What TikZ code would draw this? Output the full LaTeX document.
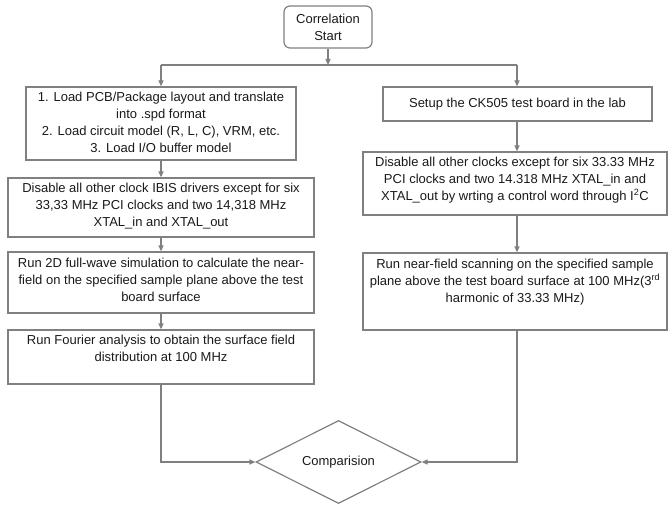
\documentclass[tikz,border=0pt]{standalone}
\usepackage{fontspec}
\setmainfont{Liberation Sans}
\usetikzlibrary{arrows.meta,shapes.geometric}
\definecolor{linegray}{HTML}{808080}
\definecolor{txtgray}{HTML}{1A1A1A}
\begin{document}
\begin{tikzpicture}[x=1pt,y=1pt,
  box/.style={draw=linegray, line width=1.2pt, fill=white, inner sep=0pt},
  txt/.style={font=\fontsize{13}{17}\selectfont, text=txtgray, align=center, inner sep=0pt},
  conn/.style={draw=linegray, line width=1.2pt, -{Triangle[length=6pt,width=5pt]}},
  plainline/.style={draw=linegray, line width=1.2pt}]
\useasboundingbox (0,0) rectangle (668,504);
% start
\node[box, txt, rounded corners=6pt, minimum width=88pt, minimum height=42pt] (start) at (328,477) {Correlation\\Start};
% left column
\node[box, minimum width=270pt, minimum height=73pt] (lb1) at (161,380.5) {};
\node[txt, anchor=north] (lb1t) at ([yshift=-5pt]lb1.north) {1. Load PCB/Package layout and translate\\into .spd format\\2. Load circuit model (R, L, C), VRM, etc.\\3. Load I/O buffer model};
\node[box, minimum width=306pt, minimum height=59pt] (lb2) at (161,296.5) {};
\node[txt, anchor=north] (lb2t) at ([yshift=-5pt]lb2.north) {Disable all other clock IBIS drivers except for six\\33,33 MHz PCI clocks and two 14,318 MHz\\XTAL\_in and XTAL\_out};
\node[box, minimum width=306pt, minimum height=61pt] (lb3) at (161,221.5) {};
\node[txt, anchor=north] (lb3t) at ([yshift=-6pt]lb3.north) {Run 2D full-wave simulation to calculate the near-\\field on the specified sample plane above the test\\board surface};
\node[box, minimum width=306pt, minimum height=54pt] (lb4) at (161,147) {};
\node[txt, anchor=north] (lb4t) at ([yshift=-5pt]lb4.north) {Run Fourier analysis to obtain the surface field\\distribution at 100 MHz};
% right column
\coordinate (rx) at (517,0);
\node[box, txt, minimum width=269pt, minimum height=34pt] (rb1) at (517.5,400) {Setup the CK505 test board in the lab};
\node[box, minimum width=304pt, minimum height=63pt] (rb2) at (515,320.5) {};
\node[txt, anchor=north] (rb2t) at ([yshift=-5pt]rb2.north) {Disable all other clocks except for six 33.33 MHz\\PCI clocks and two 14.318 MHz XTAL\_in and\\XTAL\_out by wrting a control word through I\textsuperscript{2}C};
\node[box, minimum width=304pt, minimum height=77pt] (rb3) at (515,212.5) {};
\node[txt, anchor=north] (rb3t) at ([yshift=-6pt]rb3.north) {Run near-field scanning on the specified sample\\plane above the test board surface at 100 MHz(3\textsuperscript{rd}\\harmonic of 33.33 MHz)};
% comparison
\node[draw=linegray, line width=1.2pt, diamond, aspect=2, minimum width=165pt, minimum height=83pt, txt] (cmp) at (338.5,42) {Comparision};
% connectors
\coordinate (jn) at (328,439);
\coordinate (jl) at (161,439);
\coordinate (jr) at (517,439);
\draw[conn] (start.south) -- (jn);
\draw[plainline] (jl) -- (jr);
\draw[conn] (jl) -- (jl |- lb1.north);
\draw[conn] (jr) -- (jr |- rb1.north);
\draw[conn] (lb1.south) -- (lb2.north);
\draw[conn] (lb2.south) -- (lb3.north);
\draw[conn] (lb3.south) -- (lb4.north);
\draw[conn] (rx |- rb1.south) -- (rx |- rb2.north);
\draw[conn] (rx |- rb2.south) -- (rx |- rb3.north);
\draw[conn] (lb4.south) |- (cmp.west);
\draw[conn] (rx |- rb3.south) |- (cmp.east);
\end{tikzpicture}
\end{document}
